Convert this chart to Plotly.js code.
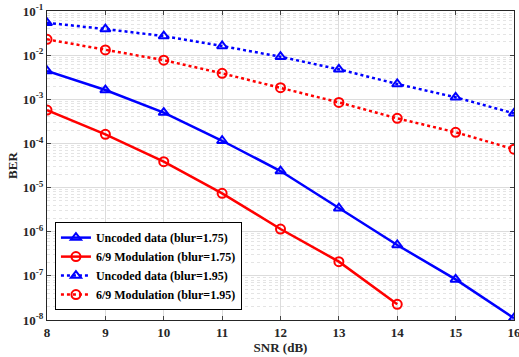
<!DOCTYPE html>
<html><head><meta charset="utf-8">
<script src="https://cdn.plot.ly/plotly-3.0.1.min.js"></script>
<style>html,body{margin:0;padding:0;background:#fff}#chart{width:519px;height:357px}</style>
</head><body><div id="chart"></div>
<script>
const snrFull = [8, 9, 10, 11, 12, 13, 14, 15, 16];
const snrMod175 = [8, 9, 10, 11, 12, 13, 14];
const uncoded175 = [4.4e-3, 1.62e-3, 5.0e-4, 1.15e-4, 2.37e-5, 3.4e-6, 5.0e-7, 8.3e-8, 1.1e-8];
const mod175 = [5.7e-4, 1.61e-4, 3.85e-5, 7.4e-6, 1.15e-6, 2.1e-7, 2.27e-8];
const uncoded195 = [5.4e-2, 3.9e-2, 2.7e-2, 1.61e-2, 9.2e-3, 4.77e-3, 2.22e-3, 1.11e-3, 4.8e-4];
const mod195 = [2.28e-2, 1.31e-2, 7.7e-3, 3.87e-3, 1.83e-3, 8.5e-4, 3.7e-4, 1.79e-4, 7.4e-5];
const seriesNames = ['Uncoded data (blur=1.75)', '6/9 Modulation (blur=1.75)', 'Uncoded data (blur=1.95)', '6/9 Modulation (blur=1.95)'];
const xTickVals = [8, 9, 10, 11, 12, 13, 14, 15, 16];
const yTickVals = [1e-8, 1e-7, 1e-6, 1e-5, 1e-4, 1e-3, 1e-2, 1e-1];
const yTickText = ['10<sup>-8</sup>', '10<sup>-7</sup>', '10<sup>-6</sup>', '10<sup>-5</sup>', '10<sup>-4</sup>', '10<sup>-3</sup>', '10<sup>-2</sup>', '10<sup>-1</sup>'];

const BLUE = '#0000ff', RED = '#ff0000';
function tr(x, y, name, color, sym, dash) {
  return {x: x, y: y, name: name, type: 'scatter', mode: 'lines+markers',
    line: {color: color, width: 2.5, dash: dash},
    marker: {symbol: sym, size: 9, color: color, line: {color: color, width: 2}}};
}
const data = [
  tr(snrFull, uncoded175, seriesNames[0], BLUE, 'triangle-up-open', 'solid'),
  tr(snrMod175, mod175, seriesNames[1], RED, 'circle-open', 'solid'),
  tr(snrFull, uncoded195, seriesNames[2], BLUE, 'triangle-up-open', 'dot'),
  tr(snrFull, mod195, seriesNames[3], RED, 'circle-open', 'dot')
];
const fam = 'Liberation Serif, Times New Roman, serif';
const layout = {
  width: 519, height: 357,
  margin: {l: 47, r: 5, t: 11, b: 37},
  paper_bgcolor: '#fff', plot_bgcolor: '#fff',
  font: {family: fam, size: 12, color: '#262626'},
  showlegend: true,
  legend: {x: 0.017, y: 0.032, xanchor: 'left', yanchor: 'bottom',
    bgcolor: '#fff', bordercolor: '#000', borderwidth: 1,
    font: {family: fam, size: 12, color: '#000', weight: 'bold'},
    tracegroupgap: 0, itemwidth: 30},
  xaxis: {range: [8, 16], tickvals: xTickVals, ticks: 'inside', ticklen: 4,
    showline: true, linecolor: '#262626', linewidth: 1, mirror: 'ticks',
    showgrid: true, gridcolor: '#dcdcdc', zeroline: false, ticklabeloverflow: 'allow',
    tickfont: {family: fam, size: 13, color: '#262626', weight: 'bold'},
    title: {text: 'SNR (dB)', standoff: 4, font: {family: fam, size: 13, color: '#262626', weight: 'bold'}}},
  yaxis: {type: 'log', range: [-8, -1], tickvals: yTickVals, ticktext: yTickText,
    ticks: 'inside', ticklen: 4,
    showline: true, linecolor: '#262626', linewidth: 1, mirror: 'ticks',
    showgrid: true, gridcolor: '#dcdcdc', zeroline: false, ticklabeloverflow: 'allow',
    minor: {dtick: 'D1', showgrid: true, gridcolor: '#e4e4e4', griddash: 'dot', ticks: ''},
    tickfont: {family: fam, size: 13, color: '#262626', weight: 'bold'},
    title: {text: 'BER', standoff: 2, font: {family: fam, size: 13, color: '#262626', weight: 'bold'}}}
};
Plotly.newPlot('chart', data, layout, {displayModeBar: false, staticPlot: true});
</script></body></html>
